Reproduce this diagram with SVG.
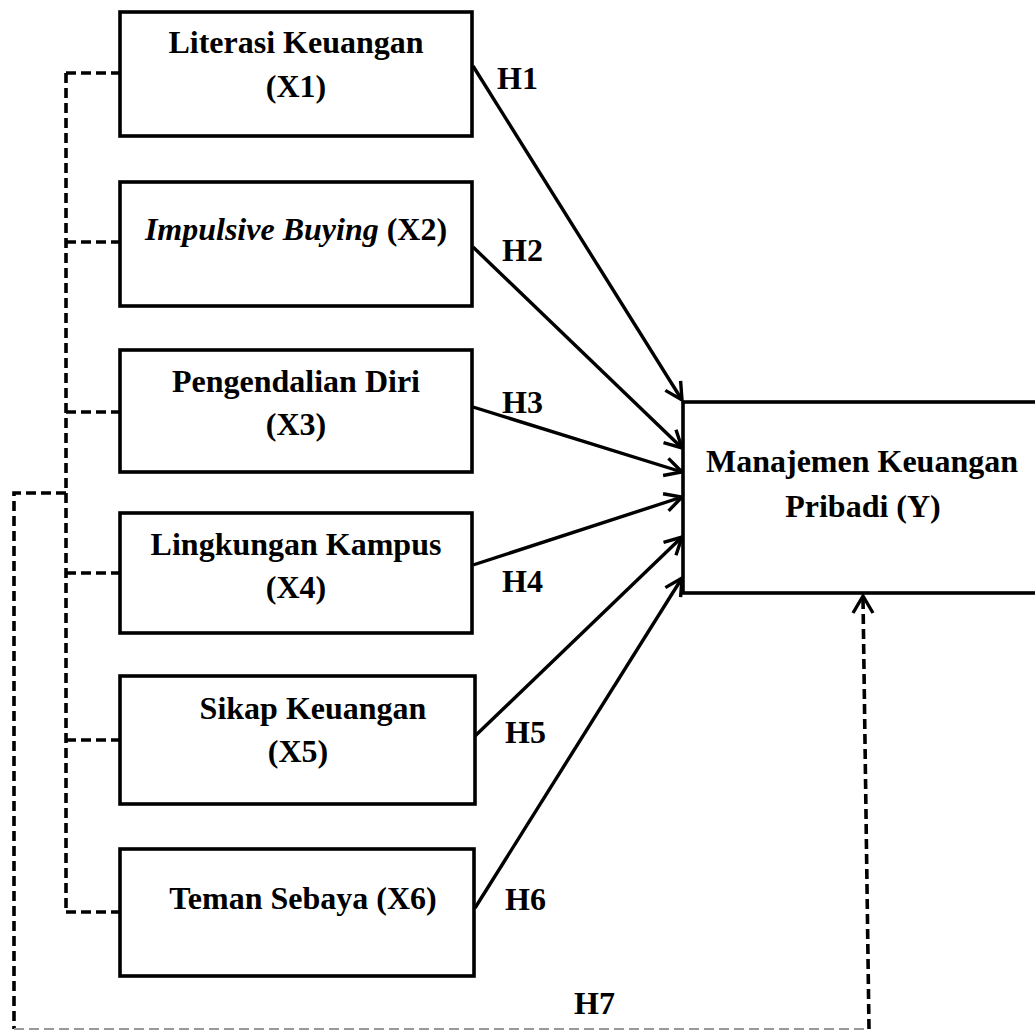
<svg xmlns="http://www.w3.org/2000/svg" width="1035" height="1030" viewBox="0 0 1035 1030">
<style>
.box{fill:#fff;stroke:#000;stroke-width:3.6}
.t{font-family:"Liberation Serif","Times New Roman",serif;font-weight:bold;font-size:32px;fill:#000;text-anchor:middle}
.h{font-family:"Liberation Serif","Times New Roman",serif;font-weight:bold;font-size:32px;fill:#000}
.arrow{stroke:#000;stroke-width:3.4;fill:none;marker-end:url(#arr)}
.dash{stroke:#000;stroke-width:3.6;fill:none;stroke-dasharray:10 5}
</style>
<defs>
<marker id="arr" markerUnits="userSpaceOnUse" markerWidth="26" markerHeight="26" viewBox="-22 -13 26 26" refX="0" refY="0" orient="auto">
<path d="M-17,-9 L0,0 L-17,9" fill="none" stroke="#000" stroke-width="3.4"/>
</marker>
</defs>
<rect width="1035" height="1030" fill="#fff"/>
<g id="connectors">
<path class="dash" d="M66,73 V912"/>
<path class="dash" d="M66,73 H120 M66,242 H120 M66,412 H120 M66,573 H120 M66,740 H120 M66,912 H120"/>
<path class="dash" d="M66,493 H14 V1029"/>
<path d="M14,1029 H869" stroke="#999" stroke-width="2" stroke-dasharray="10 5" fill="none"/>
<path class="dash" d="M869,1029 L863,598"/>
<path d="M853,613 L863,596 L873,613" fill="none" stroke="#000" stroke-width="3.4"/>
<line class="arrow" x1="473" y1="66" x2="682" y2="400"/>
<line class="arrow" x1="473" y1="247" x2="682" y2="448"/>
<line class="arrow" x1="473" y1="407" x2="682" y2="472"/>
<line class="arrow" x1="473" y1="565" x2="682" y2="497"/>
<line class="arrow" x1="475" y1="736" x2="682" y2="537"/>
<line class="arrow" x1="475" y1="908" x2="682" y2="578"/>
<text class="h" x="497" y="89">H1</text>
<text class="h" x="502" y="261">H2</text>
<text class="h" x="502" y="413">H3</text>
<text class="h" x="502" y="592">H4</text>
<text class="h" x="505" y="743">H5</text>
<text class="h" x="505" y="910">H6</text>
<text class="h" x="574" y="1014">H7</text>
</g>
<g id="x1">
<rect class="box" x="120" y="12" width="352" height="124"/>
<text class="t" x="296" y="53">Literasi Keuangan</text>
<text class="t" x="296" y="97">(X1)</text>
</g>
<g id="x2">
<rect class="box" x="120" y="182" width="352" height="124"/>
<text class="t" x="296" y="240"><tspan font-style="italic">Impulsive Buying</tspan> (X2)</text>
</g>
<g id="x3">
<rect class="box" x="120" y="350" width="352" height="122"/>
<text class="t" x="296" y="392">Pengendalian Diri</text>
<text class="t" x="296" y="435">(X3)</text>
</g>
<g id="x4">
<rect class="box" x="120" y="513" width="352" height="120"/>
<text class="t" x="296" y="555">Lingkungan Kampus</text>
<text class="t" x="296" y="598">(X4)</text>
</g>
<g id="x5">
<rect class="box" x="120" y="676" width="355" height="128"/>
<text class="t" x="313" y="719">Sikap Keuangan</text>
<text class="t" x="298" y="762">(X5)</text>
</g>
<g id="x6">
<rect class="box" x="120" y="849" width="354" height="127"/>
<text class="t" x="303" y="909">Teman Sebaya (X6)</text>
</g>
<g id="y">
<rect class="box" x="683" y="402" width="400" height="191"/>
<text class="t" x="862" y="472">Manajemen Keuangan</text>
<text class="t" x="863" y="517">Pribadi (Y)</text>
</g>
</svg>
